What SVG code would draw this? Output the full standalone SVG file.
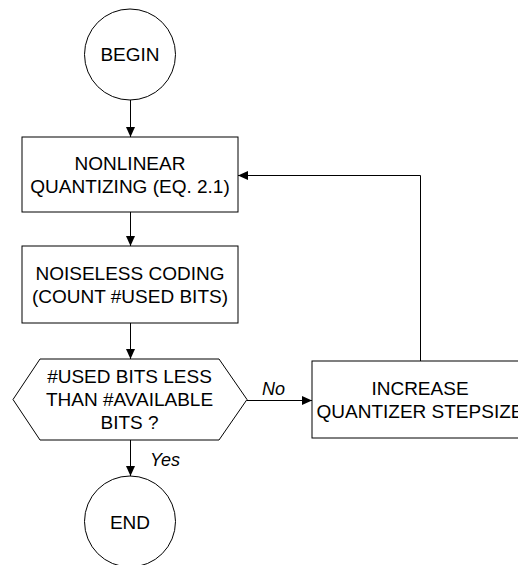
<svg xmlns="http://www.w3.org/2000/svg" width="518" height="565" viewBox="0 0 518 565">
<style>
.shape{fill:#fff;stroke:#000;stroke-width:1}
.t{font-family:"Liberation Sans",Arial,sans-serif;font-size:19px;fill:#000;text-anchor:middle}
.lbl{font-family:"Liberation Sans",Arial,sans-serif;font-size:18px;font-style:italic;fill:#000}
.conn{fill:none;stroke:#000;stroke-width:1}
</style>
<defs>
<marker id="ah" markerWidth="10" markerHeight="9" refX="10" refY="4.5" orient="auto" markerUnits="userSpaceOnUse">
<path d="M0,0 L10,4.5 L0,9 Z" fill="#000"/>
</marker>
</defs>
<rect width="518" height="565" fill="#fff"/>
<g id="connectors">
<line class="conn" x1="130.5" y1="100" x2="130.5" y2="137" marker-end="url(#ah)"/>
<line class="conn" x1="130.5" y1="212" x2="130.5" y2="246" marker-end="url(#ah)"/>
<line class="conn" x1="130.5" y1="323" x2="130.5" y2="359" marker-end="url(#ah)"/>
<line class="conn" x1="130.5" y1="440" x2="130.5" y2="476" marker-end="url(#ah)"/>
<line class="conn" x1="247" y1="400.5" x2="312" y2="400.5" marker-end="url(#ah)"/>
<polyline class="conn" points="420.5,361 420.5,175.5 238,175.5" marker-end="url(#ah)"/>
<text class="lbl" x="262" y="395">No</text>
<text class="lbl" x="150" y="466">Yes</text>
</g>
<g id="begin">
<circle class="shape" cx="130" cy="54.5" r="45.5"/>
<text class="t" x="130" y="61">BEGIN</text>
</g>
<g id="quantize">
<rect class="shape" x="22" y="137" width="216" height="75"/>
<text class="t" x="130" y="170">NONLINEAR</text>
<text class="t" x="130" y="192.7">QUANTIZING (EQ. 2.1)</text>
</g>
<g id="coding">
<rect class="shape" x="22" y="246" width="216" height="77"/>
<text class="t" x="130" y="280">NOISELESS CODING</text>
<text class="t" x="130" y="302.7">(COUNT #USED BITS)</text>
</g>
<g id="decision">
<polygon class="shape" points="40,359 219,359 247,399.5 219,440 40,440 13,399.5"/>
<text class="t" x="129.5" y="383.3">#USED BITS LESS</text>
<text class="t" x="129.5" y="406">THAN #AVAILABLE</text>
<text class="t" x="129.5" y="428.7">BITS ?</text>
</g>
<g id="increase">
<rect class="shape" x="312" y="361" width="216" height="77"/>
<text class="t" x="420" y="395">INCREASE</text>
<text class="t" x="420" y="418.3">QUANTIZER STEPSIZE</text>
</g>
<g id="end">
<circle class="shape" cx="130" cy="521.5" r="45.5"/>
<text class="t" x="130" y="528.5">END</text>
</g>
</svg>
